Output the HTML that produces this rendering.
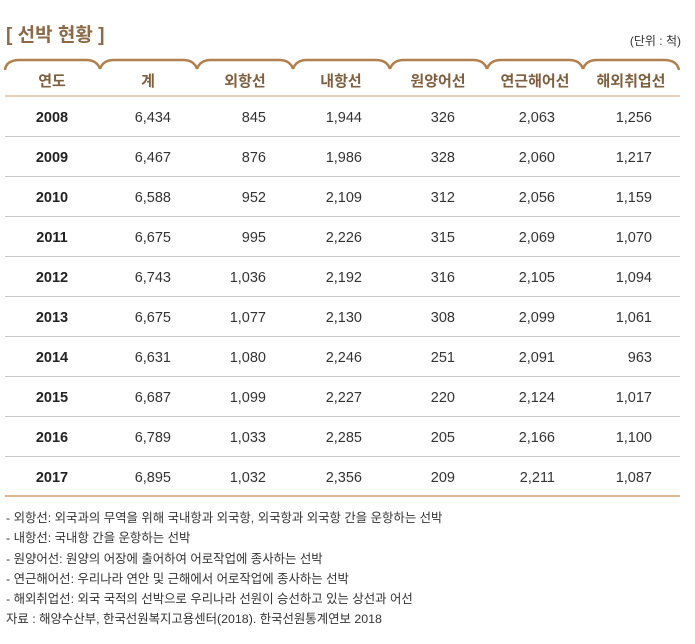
<!DOCTYPE html>
<html><head><meta charset="utf-8"><style>
body{margin:0;width:695px;height:644px;background:#fff;font-family:"Liberation Sans","Noto Sans CJK KR",sans-serif;position:relative;overflow:hidden}
.a{position:absolute;white-space:nowrap}
.t{left:6px;top:20px;font-size:19px;color:#8a6a48;font-weight:bold}
.u{right:14px;top:32px;font-size:12px;color:#333}
.h{top:70px;font-size:15px;font-weight:bold;color:#7d6040;text-align:center;width:96px}
.c{font-size:14.5px;color:#333;text-align:right;width:90px}
.y{font-weight:bold;color:#222;text-align:center;width:96px}
.l{left:5px;width:675px;height:1px;background:#c8c8c8}
.n{left:6px;font-size:12.4px;color:#333}
</style></head><body>
<div class="a t">[ 선박 현황 ]</div>
<div class="a u">(단위 : 척)</div>
<svg class="a" style="left:0;top:0" width="695" height="100">
<g fill="none" stroke="#b0814f" stroke-width="2.5">
<path d="M5,70 Q6,60 20,60 L86,60 Q97,60 100,69"/>
<path d="M100,69 Q103,60 114,60 L183,60 Q194,60 197,69"/>
<path d="M197,69 Q200,60 211,60 L279,60 Q290,60 293,69"/>
<path d="M293,69 Q296,60 307,60 L376,60 Q387,60 390,69"/>
<path d="M390,69 Q393,60 404,60 L473,60 Q484,60 487,69"/>
<path d="M487,69 Q490,60 501,60 L569,60 Q580,60 583,69"/>
<path d="M583,69 Q586,60 597,60 L664,60 Q677,60 679,70"/>
</g>
<line x1="5" y1="96" x2="680" y2="96" stroke="#dcc0a0" stroke-width="1.5"/>
</svg>
<div class="a h" style="left:4px">연도</div>
<div class="a h" style="left:100px">계</div>
<div class="a h" style="left:197px">외항선</div>
<div class="a h" style="left:293px">내항선</div>
<div class="a h" style="left:390px">원양어선</div>
<div class="a h" style="left:487px">연근해어선</div>
<div class="a h" style="left:583px">해외취업선</div>
<div id="rows"></div>
<script>
var d=[[2008,"6,434","845","1,944","326","2,063","1,256"],[2009,"6,467","876","1,986","328","2,060","1,217"],[2010,"6,588","952","2,109","312","2,056","1,159"],[2011,"6,675","995","2,226","315","2,069","1,070"],[2012,"6,743","1,036","2,192","316","2,105","1,094"],[2013,"6,675","1,077","2,130","308","2,099","1,061"],[2014,"6,631","1,080","2,246","251","2,091","963"],[2015,"6,687","1,099","2,227","220","2,124","1,017"],[2016,"6,789","1,033","2,285","205","2,166","1,100"],[2017,"6,895","1,032","2,356","209","2,211","1,087"]];
var ends=[171,266,362,455,555,652],h="";
d.forEach(function(r,i){var y=110+i*40;
h+='<div class="a c y" style="left:4px;top:'+y+'px">'+r[0]+'</div>';
for(var j=1;j<7;j++)h+='<div class="a c" style="left:'+(ends[j-1]-90)+'px;top:'+y+'px">'+r[j]+'</div>';
if(i<9)h+='<div class="a l" style="top:'+(136+i*40)+'px"></div>';});
h+='<div class="a l" style="top:495px;height:1.5px;background:#dcb890"></div>';
document.getElementById("rows").innerHTML=h;
</script>
<div class="a n" style="top:508px">- 외항선: 외국과의 무역을 위해 국내항과 외국항, 외국항과 외국항 간을 운항하는 선박</div>
<div class="a n" style="top:528px">- 내항선: 국내항 간을 운항하는 선박</div>
<div class="a n" style="top:549px">- 원양어선: 원양의 어장에 출어하여 어로작업에 종사하는 선박</div>
<div class="a n" style="top:569px">- 연근해어선: 우리나라 연안 및 근해에서 어로작업에 종사하는 선박</div>
<div class="a n" style="top:589px">- 해외취업선: 외국 국적의 선박으로 우리나라 선원이 승선하고 있는 상선과 어선</div>
<div class="a n" style="top:609px">자료 : 해양수산부, 한국선원복지고용센터(2018). 한국선원통계연보 2018</div>
</body></html>
